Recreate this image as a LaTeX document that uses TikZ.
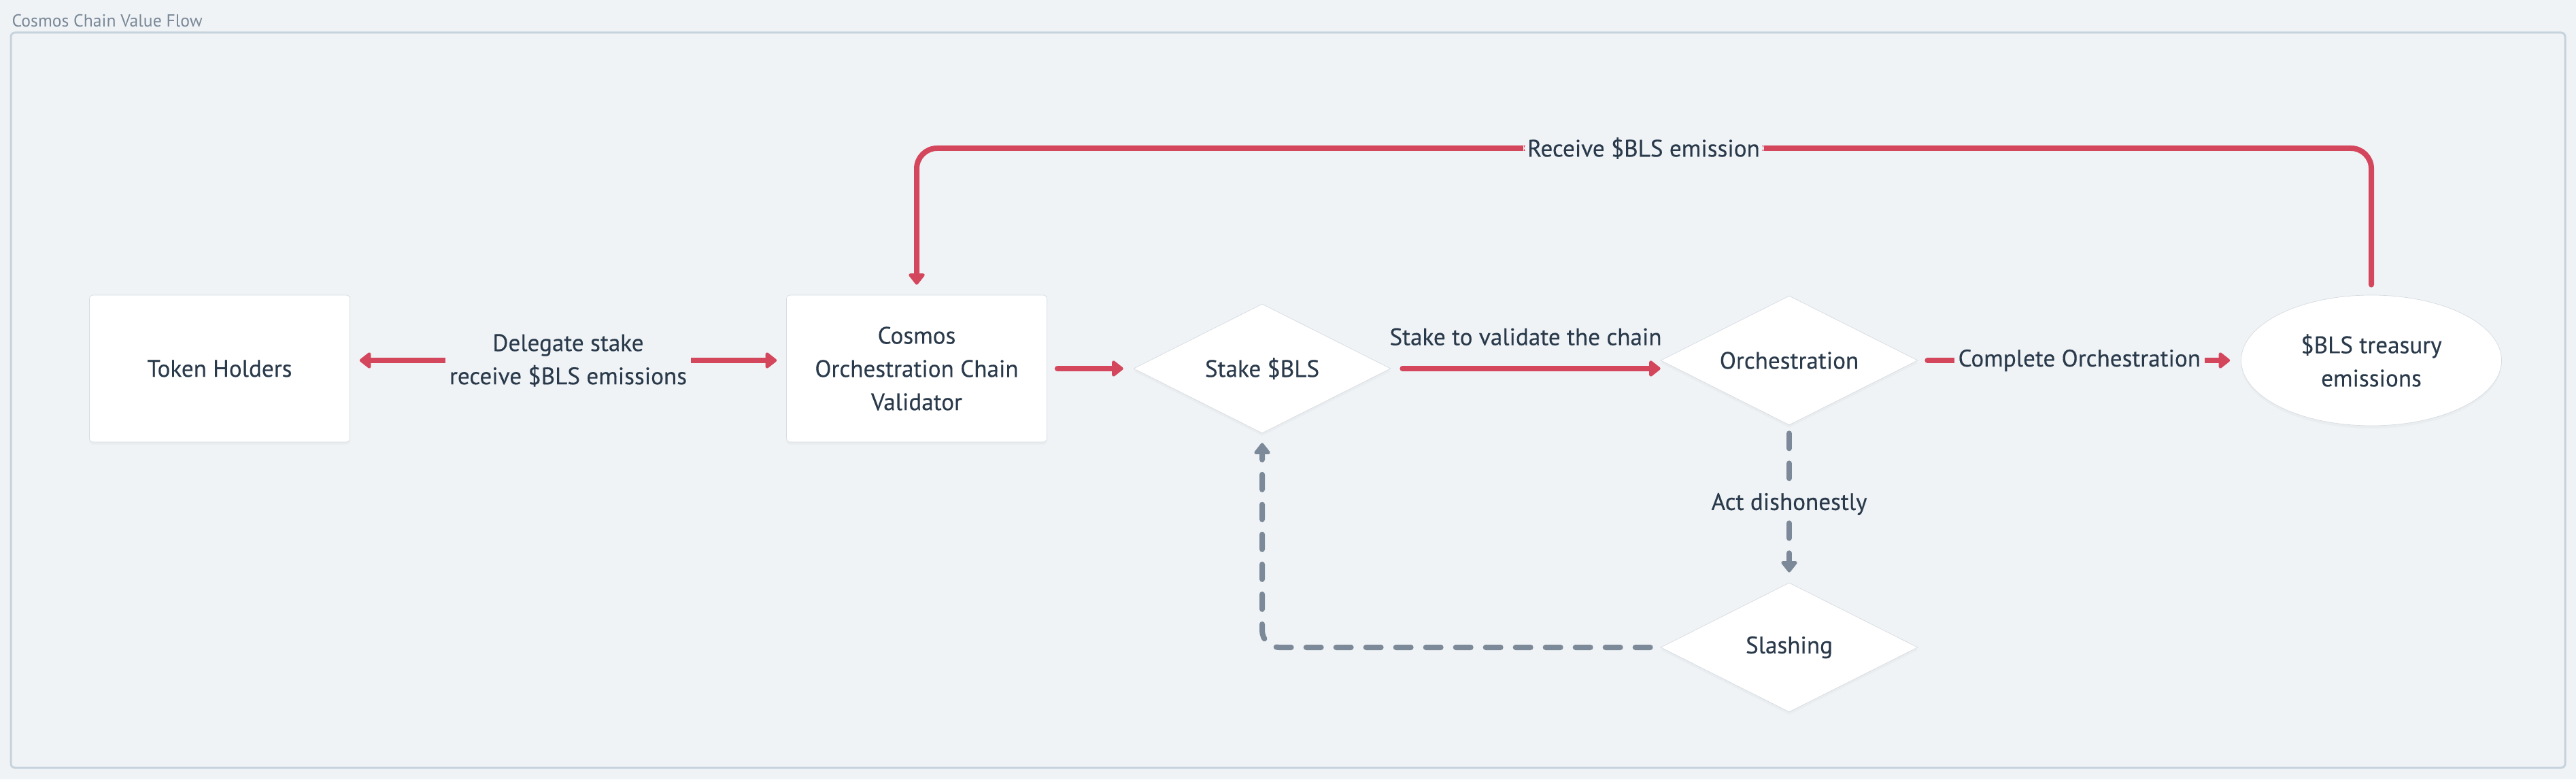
\documentclass[tikz,border=0pt]{standalone}
\usepackage{fontspec}
\setmainfont{PT Sans}
\usepackage{tikz}
\usetikzlibrary{shapes,shadows,arrows.meta,backgrounds}
\definecolor{bgcol}{RGB}{239,243,246}
\definecolor{framecol}{RGB}{198,210,220}
\definecolor{flowred}{RGB}{212,70,92}
\definecolor{flowgray}{RGB}{123,137,152}
\definecolor{inkcol}{RGB}{42,58,75}
\definecolor{titlecol}{RGB}{122,136,151}
\definecolor{edgecol}{RGB}{214,219,224}
\tikzstyle{line} = [draw=flowred, line width=0.08cm, line cap=round, -{Triangle[length=0.18cm, width=0.27cm, round]}]
\tikzstyle{dline} = [line, draw=flowgray, dash pattern=on 0.22cm off 0.22cm, rounded corners=0.25cm]
\tikzstyle{card} = [rectangle, draw=edgecol, line width=0.2pt, fill=white, rounded corners=0.05cm, minimum width=3.83cm, minimum height=2.16cm, align=center, drop shadow={opacity=0.05, shadow xshift=0cm, shadow yshift=-0.04cm}]
\tikzstyle{decision} = [diamond, draw=edgecol, line width=0.2pt, fill=white, aspect=2, inner sep=0pt, minimum width=3.78cm, minimum height=1.9cm, align=center, drop shadow={opacity=0.05, shadow xshift=0cm, shadow yshift=-0.04cm}]
\tikzstyle{pool} = [ellipse, draw=edgecol, line width=0.2pt, fill=white, inner sep=0pt, minimum width=3.83cm, minimum height=1.92cm, align=center, drop shadow={opacity=0.05, shadow xshift=0cm, shadow yshift=-0.04cm}]
\tikzstyle{elabel} = [fill=bgcol, inner sep=0.06cm, align=center]
\begin{document}
\begin{tikzpicture}[every node/.style={font=\fontsize{10}{13.9}\selectfont\addfontfeature{FakeBold=0.3}, text=inkcol}]
		\fill [bgcol] (0,0) rectangle (37.88,11.46);
		\useasboundingbox (0,0) rectangle (37.88,11.46);
		\draw [framecol, line width=0.03cm, rounded corners=0.06cm] (0.16,0.17) rectangle (37.72,10.98);
		\node [anchor=base west, inner sep=0pt, text=titlecol, font=\fontsize{7.3}{8}\selectfont] (title) at (0.17,11.06) {Cosmos Chain Value Flow};
		
		\node [card] (holders) at (3.23,6.04) {Token Holders};
		\node [card, right of = holders, node distance = 10.25cm] (validator) {Cosmos\\Orchestration Chain\\Validator};
		\node [decision, right of = validator, node distance = 5.08cm] (stake) {Stake \$BLS};
		\node [decision, right of = stake, node distance = 7.75cm, yshift=0.12cm] (orch) {Orchestration};
		\node [pool, right of = orch, node distance = 8.56cm] (treasury) {\$BLS treasury\\emissions};
		\node [decision, below of = orch, node distance = 4.22cm] (slashing) {Slashing};
		\coordinate (rtop) at (24.17,9.28);
		
		\path [line, {Triangle[length=0.18cm, width=0.27cm, round]}-{Triangle[length=0.18cm, width=0.27cm, round]}, shorten <=0.14cm, shorten >=0.14cm] ([yshift=0.12cm]holders.east) to node [elabel] (delegate) {Delegate stake\\receive \$BLS emissions} ([yshift=0.12cm]validator.west);
		\path [line, shorten <=0.15cm, shorten >=0.15cm] (validator.east) to (stake.west);
		\path [line, shorten <=0.17cm] (stake.east) to node [above, inner sep=0.06cm, yshift=0.24cm] (validate) {Stake to validate the chain} (stake.east -| orch.west);
		\path [line, shorten <=0.14cm, shorten >=0.16cm] (orch.east) to node [elabel] (complete) {Complete Orchestration} (treasury.west);
		\path [line, rounded corners=0.3cm, shorten <=0.15cm, shorten >=0.15cm] (treasury.north) |- (rtop) node [elabel] (receive) {Receive \$BLS emission} -| (validator.north);
		
		\path [dline, shorten <=0.12cm, shorten >=0.15cm] (orch.south) to node [elabel] (dishonest) {Act dishonestly} (slashing.north);
		\path [dline, shorten <=0.15cm, shorten >=0.14cm] (slashing.west) -| (stake.south);
\end{tikzpicture}
\end{document}
